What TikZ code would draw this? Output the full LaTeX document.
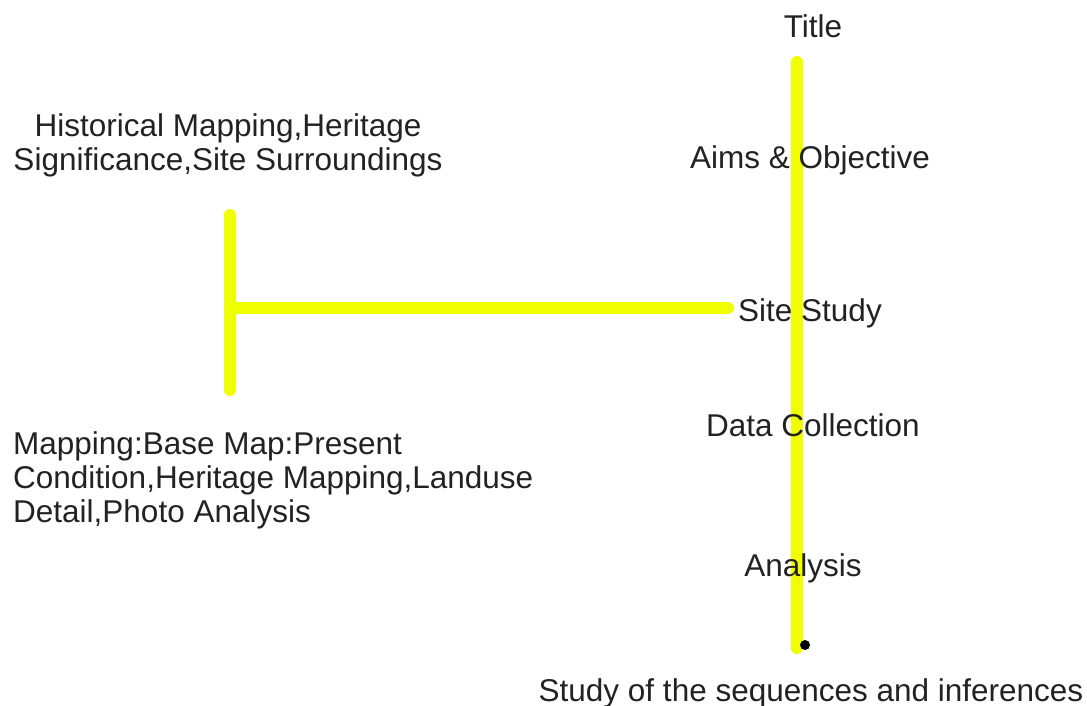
\documentclass[tikz,border=0pt]{standalone}
\usepackage{fontspec}
\setmainfont{Liberation Sans}
\definecolor{hl}{RGB}{240,255,0}
\definecolor{ink}{RGB}{34,34,34}
\begin{document}
\begin{tikzpicture}[x=1pt,y=-1pt,
  lbl/.style={font=\fontsize{31.5}{34}\selectfont, inner sep=0pt, text=ink},
  yline/.style={draw=hl, line width=12pt, line cap=round}]
\useasboundingbox (0,0) rectangle (1087,706);
% spine and branches
\coordinate (spinetop) at (797,62);
\coordinate (spinebot) at (797,648);
\coordinate (bartop) at (230,215);
\coordinate (barbot) at (230,390);
\coordinate (barmid) at (230,308);
\coordinate (branchend) at (728,308);
\draw[yline] (spinetop) -- (spinebot);
\draw[yline] (bartop) -- (barbot);
\draw[yline] (barmid) -- (branchend);
\fill[black] (805,645) circle (5);
% labels
\node[lbl, anchor=base] (title) at (813,38) {Title};
\node[lbl, anchor=base] (aims) at (810,168) {Aims \& Objective};
\node[lbl, anchor=base] (site) at (810,321) {Site Study};
\node[lbl, anchor=base] (data) at (813,436) {Data Collection};
\node[lbl, anchor=base] (analysis) at (803,576) {Analysis};
\node[lbl, anchor=base] (study) at (811,701) {Study of the sequences and inferences};
\node[lbl, anchor=base, align=center] (hist) at (228,171) {Historical Mapping,Heritage\\Significance,Site Surroundings};
\node[lbl, anchor=base west, align=left] (map) at (13,522) {Mapping:Base Map:Present\\Condition,Heritage Mapping,Landuse\\Detail,Photo Analysis};
\end{tikzpicture}
\end{document}
